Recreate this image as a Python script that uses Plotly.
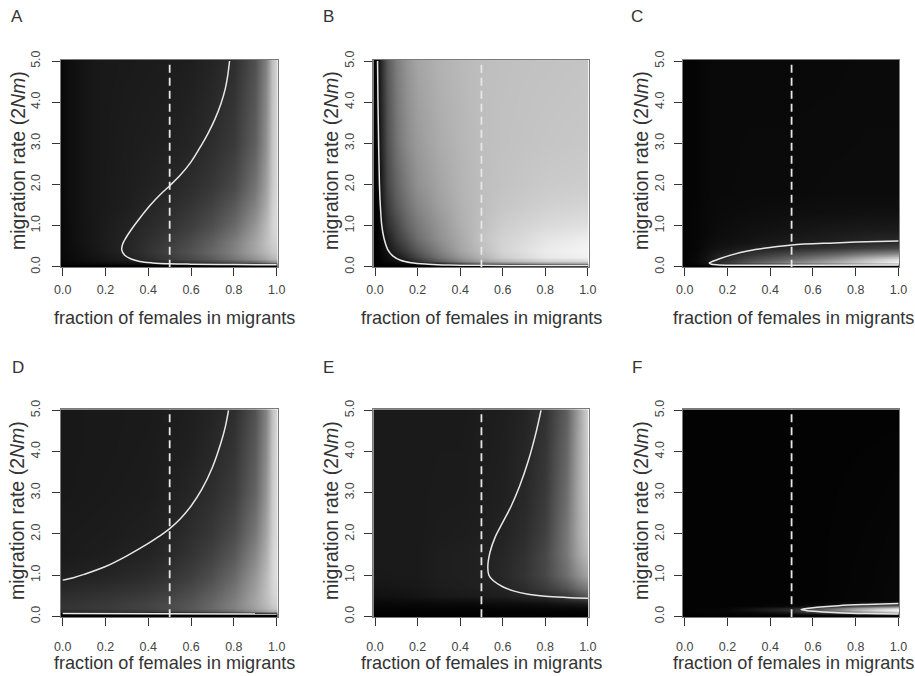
import plotly.graph_objects as go

TICK_X = [0.0, 0.2, 0.4, 0.6, 0.8, 1.0]
TICK_Y = [0.0, 1.0, 2.0, 3.0, 4.0, 5.0]
TICK_X_TEXT = ["0.0", "0.2", "0.4", "0.6", "0.8", "1.0"]
TICK_Y_TEXT = ["0.0", "1.0", "2.0", "3.0", "4.0", "5.0"]
XLABEL = "fraction of females in migrants"
YLABEL = "migration rate (2<i>Nm</i>)"
EQUAL_FRACTION = [0.5, 0.5]
EQUAL_SPAN = [-0.02, 5.03]

A_x = [-.01, .03, .08, .15, .3, .5, .6, .7, .8, .9, .95, .98, 1.01]
A_y = [-.02, .04, .07, .12, .2, .35, .6, 1, 1.5, 2, 3, 5.03]
A_z = [
    [0]*13,
    [0]*13,
    [3, 5, 6, 8, 10, 14, 18, 22, 28, 35, 45, 55, 60],
    [5, 8, 10, 14, 20, 38, 50, 62, 80, 100, 120, 135, 145],
    [8, 10, 14, 18, 30, 58, 72, 90, 115, 145, 165, 180, 190],
    [8, 12, 16, 22, 36, 66, 82, 102, 130, 165, 185, 198, 205],
    [8, 13, 18, 24, 36, 60, 75, 95, 125, 165, 190, 205, 215],
    [8, 13, 18, 24, 34, 50, 62, 78, 105, 150, 185, 210, 225],
    [8, 14, 19, 24, 30, 43, 52, 65, 88, 130, 170, 205, 225],
    [8, 14, 19, 24, 29, 38, 45, 55, 72, 115, 160, 200, 225],
    [8, 14, 19, 24, 28, 32, 37, 45, 58, 95, 145, 195, 225],
    [8, 14, 19, 24, 26, 28, 30, 36, 46, 80, 130, 190, 225],
]
A_cx = [1.0, .8, .6, .5, .42, .36, .32, .29, .276, .28, .295, .32, .36, .41, .455, .5, .55, .6, .65, .68, .71, .74, .76, .77, .78]
A_cy = [.05, .055, .065, .075, .095, .13, .19, .28, .41, .55, .70, .90, 1.18, 1.50, 1.75, 1.97, 2.23, 2.55, 2.97, 3.25, 3.57, 3.97, 4.33, 4.6, 5.0]

B_x = [-.01, .015, .03, .06, .1, .15, .2, .3, .4, .5, .6, .8, 1.01]
B_y = [-.02, .03, .06, .1, .15, .25, .4, .7, 1, 1.5, 2, 3, 5.03]
B_z = [
    [0]*13,
    [0, 0, 0, 0, 0, 0, 0, 0, 2, 4, 5, 5, 5],
    [0, 0, 0, 2, 3, 4, 5, 8, 15, 25, 40, 70, 85],
    [0, 2, 3, 5, 8, 12, 20, 45, 80, 110, 130, 155, 170],
    [0, 2, 5, 10, 15, 25, 45, 90, 130, 160, 180, 205, 215],
    [0, 3, 6, 14, 25, 45, 70, 115, 150, 180, 205, 232, 242],
    [0, 3, 8, 20, 40, 65, 90, 130, 165, 190, 212, 235, 245],
    [0, 5, 10, 30, 60, 85, 110, 145, 170, 195, 210, 228, 238],
    [0, 6, 18, 45, 70, 100, 120, 150, 175, 192, 205, 218, 225],
    [0, 8, 25, 60, 90, 115, 135, 160, 178, 190, 198, 208, 212],
    [0, 10, 30, 70, 100, 125, 145, 165, 180, 190, 195, 202, 205],
    [0, 15, 38, 80, 115, 140, 155, 172, 182, 190, 193, 197, 200],
    [0, 18, 45, 90, 125, 150, 165, 178, 185, 190, 192, 194, 196],
]
B_cx = [.012, .014, .017, .021, .025, .032, .042, .06, .085, .12, .17, .25, .35, .5, .7, 1.0]
B_cy = [5.0, 4.0, 3.0, 2.0, 1.5, 1.0, .7, .42, .26, .16, .1, .065, .045, .035, .03, .03]

C_x = [-.01, .05, .09, .15, .3, .5, .7, .85, 1.01]
C_y = [-.02, .03, .07, .12, .2, .3, .45, .6, .9, 1.3, 1.8, 5.03]
C_z = [
    [0]*9,
    [1, 2, 2, 3, 3, 3, 3, 3, 3],
    [3, 6, 12, 30, 60, 90, 120, 150, 170],
    [4, 8, 18, 40, 85, 130, 170, 205, 245],
    [4, 8, 16, 35, 70, 105, 145, 185, 225],
    [4, 6, 14, 28, 50, 75, 100, 125, 145],
    [4, 5, 11, 18, 30, 42, 52, 62, 72],
    [4, 5, 10, 14, 20, 28, 32, 38, 42],
    [4, 5, 8, 12, 16, 20, 24, 26, 27],
    [4, 5, 8, 10, 12, 14, 15, 16, 16],
    [4, 4, 8, 9, 10, 10, 11, 11, 11],
    [4, 4, 8, 9, 9, 9, 9, 10, 10],
]
C_cx = [1.0, .85, .7, .5, .4, .3, .22, .16, .125, .115, .125, .16, .3, .6, 1.0]
C_cy = [.63, .61, .58, .53, .47, .39, .29, .19, .12, .09, .06, .045, .04, .04, .045]

D_x = [-.01, .2, .4, .5, .6, .7, .8, .9, .95, .98, 1.01]
D_y = [-.02, .04, .07, .12, .2, .35, .6, 1, 1.5, 2, 3, 4, 5.03]
D_z = [
    [0]*11,
    [0]*11,
    [5, 7, 9, 12, 15, 20, 28, 38, 45, 52, 58],
    [40, 48, 58, 64, 75, 88, 108, 140, 160, 172, 180],
    [52, 58, 68, 76, 88, 105, 128, 160, 180, 195, 205],
    [50, 56, 66, 74, 85, 102, 128, 165, 188, 205, 215],
    [42, 48, 56, 64, 75, 92, 118, 160, 190, 210, 222],
    [32, 36, 44, 52, 62, 78, 105, 150, 185, 212, 228],
    [26, 30, 36, 42, 52, 65, 88, 135, 175, 210, 228],
    [26, 28, 32, 37, 46, 56, 76, 120, 165, 205, 228],
    [24, 26, 28, 32, 38, 46, 60, 100, 150, 200, 228],
    [24, 25, 27, 29, 33, 40, 52, 90, 140, 195, 228],
    [24, 25, 26, 28, 30, 36, 46, 82, 132, 190, 228],
]
D_cx = [0.0, .05, .1, .2, .3, .4, .45, .5, .55, .6, .65, .7, .74, .76, .775]
D_cy = [.88, .94, 1.02, 1.21, 1.47, 1.77, 1.94, 2.13, 2.37, 2.68, 3.08, 3.62, 4.22, 4.6, 5.0]
D2_cx = [0.0, 1.0]
D2_cy = [.07, .06]

E_x = [-.01, .2, .3, .4, .5, .6, .7, .8, .9, .95, 1.01]
E_y = [-.02, .1, .2, .3, .4, .5, .7, 1, 1.5, 2, 3, 5.03]
E_z = [
    [0]*11,
    [2, 2, 2, 2, 2, 2, 2, 3, 3, 4, 5],
    [4, 5, 5, 5, 5, 6, 6, 7, 8, 9, 10],
    [7, 8, 9, 9, 10, 11, 12, 14, 20, 22, 25],
    [11, 13, 15, 16, 18, 20, 24, 28, 38, 45, 55],
    [16, 20, 24, 25, 27, 30, 35, 42, 55, 72, 90],
    [20, 24, 28, 30, 32, 36, 45, 60, 85, 108, 130],
    [25, 26, 30, 31, 33, 40, 52, 72, 110, 140, 170],
    [26, 26, 30, 31, 33, 38, 50, 72, 120, 160, 195],
    [26, 26, 28, 29, 31, 35, 45, 65, 120, 165, 205],
    [26, 26, 27, 27, 29, 32, 40, 58, 110, 165, 215],
    [26, 26, 26, 26, 28, 30, 36, 50, 95, 155, 225],
]
E_cx = [.78, .755, .72, .68, .64, .6, .565, .54, .53, .535, .555, .6, .65, .72, .8, .9, 1.0]
E_cy = [5.0, 4.43, 3.77, 3.17, 2.68, 2.28, 1.93, 1.55, 1.2, 1.0, .87, .72, .62, .54, .49, .46, .44]

F_x = [-.01, .2, .3, .4, .5, .55, .6, .7, .8, .9, 1.01]
F_y = [-.02, .03, .06, .1, .15, .2, .25, .3, .4, 5.03]
F_z = [
    [0]*11,
    [2, 2, 2, 2, 2, 3, 3, 3, 3, 4, 5],
    [3, 3, 4, 5, 6, 8, 10, 14, 18, 24, 30],
    [3, 5, 8, 15, 25, 45, 55, 85, 120, 155, 190],
    [3, 8, 18, 30, 45, 65, 80, 125, 175, 220, 255],
    [3, 7, 16, 28, 40, 55, 70, 115, 165, 195, 225],
    [3, 4, 6, 8, 12, 15, 25, 45, 85, 110, 130],
    [3, 3, 3, 4, 5, 6, 8, 12, 22, 35, 50],
    [3, 3, 3, 3, 3, 3, 3, 4, 5, 6, 8],
    [3, 3, 3, 3, 3, 3, 3, 3, 3, 3, 3],
]
F_cx = [1.0, .85, .72, .62, .57, .545, .57, .62, .72, .85, 1.0]
F_cy = [.315, .29, .26, .22, .19, .165, .14, .12, .09, .07, .06]

LETTERS = ["A", "B", "C", "D", "E", "F"]
GRIDS = [(A_x, A_y, A_z), (B_x, B_y, B_z), (C_x, C_y, C_z), (D_x, D_y, D_z), (E_x, E_y, E_z), (F_x, F_y, F_z)]
CONTOURS = [[(A_cx, A_cy)], [(B_cx, B_cy)], [(C_cx, C_cy)], [(D_cx, D_cy), (D2_cx, D2_cy)], [(E_cx, E_cy)], [(F_cx, F_cy)]]

W, H = 915, 676
FONT = "Liberation Sans"
# plot boxes in page pixels: left, right, top, bottom
BOXES = [(61, 277.5, 60, 267.3), (373.3, 588.7, 60, 267.3), (683, 899.3, 60, 267.3),
         (61, 277.5, 409.3, 616.9), (373.3, 588.7, 409.3, 616.9), (683, 899.3, 409.3, 616.9)]
LETTER_XY = [(17, 17), (328, 17), (637, 17), (18, 367), (328, 367), (637, 367)]
XT_XY = [(174, 318), (481, 318), (793.5, 318), (174, 663), (481, 663), (793.5, 663)]
YT_XY = [(18, 161), (331, 161), (641, 161), (17, 511), (331, 511), (641, 511)]
YTICK_STANDOFF = [7, 5, 5, 7, 5, 5]
XTICK_STANDOFF = [3, 3, 3, 10, 10, 10]


def paper(px, py):
    return px / W, 1 - py / H


fig = go.Figure()
annotations = []
layout_axes = {}
for i in range(6):
    s = "" if i == 0 else str(i + 1)
    xa, ya = "x" + s, "y" + s
    gx, gy, gz = GRIDS[i]
    fig.add_trace(go.Heatmap(x=gx, y=gy, z=gz, xaxis=xa, yaxis=ya, zmin=0, zmax=255, zsmooth="best",
                             colorscale=[[0, "#000000"], [1, "#ffffff"]], showscale=False, hoverinfo="skip"))
    fig.add_trace(go.Scatter(x=EQUAL_FRACTION, y=EQUAL_SPAN, xaxis=xa, yaxis=ya, mode="lines",
                             line=dict(color="#e6e6e6", width=1.8, dash="8px,5px"), showlegend=False, hoverinfo="skip"))
    for cx, cy in CONTOURS[i]:
        fig.add_trace(go.Scatter(x=cx, y=cy, xaxis=xa, yaxis=ya, mode="lines",
                                 line=dict(color="#e8e8e8", width=1.5, shape="spline"),
                                 showlegend=False, hoverinfo="skip"))
    l, r, t, b = BOXES[i]
    xl, yb = paper(l, b)
    xr, yt = paper(r, t)
    common = dict(showgrid=False, zeroline=False, showline=True, mirror=True, linecolor="#7a7a7a", linewidth=1,
                  ticks="outside", ticklen=8, tickwidth=1, tickcolor="#333333", automargin=False,
                  tickfont=dict(family=FONT, size=12.5, color="#444444"))
    layout_axes["xaxis" + s] = dict(common, domain=[xl, xr], range=[-0.008, 1.004], anchor=ya,
                                    tickvals=TICK_X, ticktext=TICK_X_TEXT, tickangle=0,
                                    ticklabelstandoff=XTICK_STANDOFF[i])
    layout_axes["yaxis" + s] = dict(common, domain=[yb, yt], range=[-0.012, 5.025], anchor=xa,
                                    tickvals=TICK_Y, ticktext=TICK_Y_TEXT, tickangle=-90,
                                    ticklabelstandoff=YTICK_STANDOFF[i])
    lx, ly = paper(*LETTER_XY[i])
    annotations.append(dict(text=LETTERS[i], x=lx, y=ly, xref="paper", yref="paper", showarrow=False,
                            xanchor="center", yanchor="middle", font=dict(family=FONT, size=17, color="#333333")))
    tx, ty = paper(*XT_XY[i])
    annotations.append(dict(text=XLABEL, x=tx, y=ty, xref="paper", yref="paper", showarrow=False,
                            xanchor="center", yanchor="middle", font=dict(family=FONT, size=18.1, color="#333333")))
    tx, ty = paper(*YT_XY[i])
    annotations.append(dict(text=YLABEL, x=tx, y=ty, xref="paper", yref="paper", showarrow=False, textangle=-90,
                            xanchor="center", yanchor="middle", font=dict(family=FONT, size=19.5, color="#333333")))

fig.update_layout(template="none", width=W, height=H, margin=dict(l=0, r=0, t=0, b=0),
                  paper_bgcolor="white", plot_bgcolor="white",
                  showlegend=False, annotations=annotations, **layout_axes)
fig.write_html("out.html", config={"displayModeBar": False}, post_script="document.body.style.margin='0';")
